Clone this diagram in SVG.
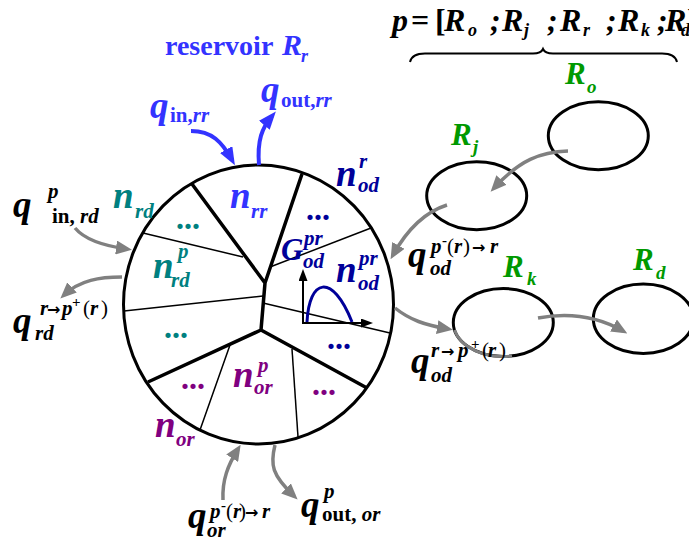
<svg xmlns="http://www.w3.org/2000/svg" width="689" height="547" viewBox="0 0 689 547">
<style>
.t{font-family:"Liberation Serif","Times New Roman",serif;font-weight:bold;font-style:italic}
.u{font-style:normal}
.th{font-weight:normal;font-style:normal}
.ar{font-family:"DejaVu Sans",sans-serif;font-weight:bold;font-style:normal;font-size:16px}
.b{font-size:37px}
.s{font-size:21px}
.ss{font-size:15px}
.lab{font-size:31px}
.ls{font-size:19px}
.blue{fill:#3333ff}.teal{fill:#008080}.purp{fill:#800080}.navy{fill:#000099}.green{fill:#009900}.blk{fill:#000}
.dots{font-family:"Liberation Serif",serif;font-weight:bold;font-size:32px}
.ga{fill:none;stroke:#808080;stroke-width:3.5}
.ba{fill:none;stroke:#3333ff;stroke-width:4}
.ell{fill:none;stroke:#000;stroke-width:3}
.thick{stroke:#000;stroke-width:3.5;fill:none;stroke-linejoin:round}
.thin{stroke:#000;stroke-width:1.5}
</style>
<defs>
<marker id="mg" viewBox="0 0 16 14" refX="11" refY="7" markerWidth="16" markerHeight="14" markerUnits="userSpaceOnUse" orient="auto"><path d="M0,0 L16,7 L0,14 z" fill="#808080"/></marker>
<marker id="mb" viewBox="0 0 18 14" refX="12" refY="7" markerWidth="18" markerHeight="14" markerUnits="userSpaceOnUse" orient="auto"><path d="M0,0 L18,7 L0,14 z" fill="#3333ff"/></marker>
<marker id="mk" viewBox="0 0 12 9" refX="8" refY="4.5" markerWidth="12" markerHeight="9" markerUnits="userSpaceOnUse" orient="auto"><path d="M0,0 L12,4.5 L0,9 z" fill="#000"/></marker>
</defs>

<g id="formula">
<text class="t blk" font-size="32"><tspan x="392" y="31">p</tspan><tspan class="u" x="411" y="31">=</tspan><tspan class="u" x="435" y="31">[</tspan><tspan x="444" y="31">R</tspan><tspan x="490" y="31">;</tspan><tspan x="502" y="31">R</tspan><tspan x="547" y="31">;</tspan><tspan x="560" y="31">R</tspan><tspan x="606" y="31">;</tspan><tspan x="618" y="31">R</tspan><tspan x="657" y="31">;</tspan><tspan x="665" y="31">R</tspan></text>
<text class="t blk" font-size="18"><tspan x="468" y="36">o</tspan><tspan x="524" y="36">j</tspan><tspan x="583" y="36">r</tspan><tspan x="641" y="36">k</tspan><tspan x="681" y="36">d</tspan></text>
<text class="t u blk" font-size="32" x="687" y="31">]</text>
<path d="M410,62 Q412,53.5 425,53.5 L533,53.5 Q541,53.5 543,49 Q545,53.5 553,53.5 L662,53.5 Q675,53.5 677,62" fill="none" stroke="#000" stroke-width="2"/>
</g>

<g id="reservoir">
<ellipse cx="258.5" cy="304.5" rx="135" ry="139.5" fill="#fff" stroke="#000" stroke-width="3"/>
<path class="thick" d="M192,184 L265,283 L302,174 M265,283 L261,330 M148,382 L261,330 L367,388"/>
<g class="thin">
<line x1="143" y1="233" x2="243" y2="257"/>
<line x1="124" y1="311" x2="263" y2="296"/>
<line x1="270" y1="267" x2="371" y2="228"/>
<line x1="263" y1="303" x2="390" y2="333"/>
<line x1="230" y1="345" x2="200" y2="430"/>
<line x1="292" y1="349" x2="298" y2="437"/>
</g>
<text class="t u" x="165" y="55" font-size="28" fill="#3333ff">reservoir</text>
<text class="t blue" x="282" y="55" font-size="30">R</text>
<text class="t blue" x="301" y="62" font-size="18">r</text>
</g>

<g id="graph">
<line x1="303" y1="323" x2="303" y2="273" stroke="#000" stroke-width="2" marker-end="url(#mk)"/>
<line x1="302" y1="323" x2="369" y2="323" stroke="#000" stroke-width="2" marker-end="url(#mk)"/>
<path d="M307,322 C309,279 332,272 352,322" fill="none" stroke="#000099" stroke-width="3"/>
<text class="t navy" x="281" y="260" font-size="31">G</text>
<text class="t navy s" x="304" y="245">pr</text>
<text class="t navy s" x="303" y="268">od</text>
</g>

<g id="n_rr">
<text class="t blue b" x="230" y="208">n</text>
<text class="t blue s" x="251" y="218">rr</text>
</g>
<g id="n_rd">
<text class="t teal b" x="113" y="208">n</text>
<text class="t teal s" x="135" y="218">rd</text>
<text class="t teal b" x="153" y="278">n</text>
<text class="t teal s" x="178" y="258">p</text>
<text class="t teal s" x="171" y="287">rd</text>
<text class="dots teal" x="176" y="229">...</text>
<text class="dots teal" x="164" y="338">...</text>
</g>
<g id="n_od">
<text class="t navy b" x="336" y="186">n</text>
<text class="t navy s" x="359" y="168">r</text>
<text class="t navy s" x="358" y="192">od</text>
<text class="t navy b" x="336" y="282">n</text>
<text class="t navy s" x="359" y="265">pr</text>
<text class="t navy s" x="358" y="290">od</text>
<text class="dots navy" x="306" y="220">...</text>
<text class="dots navy" x="327" y="349">...</text>
</g>
<g id="n_or">
<text class="t purp b" x="233" y="387">n</text>
<text class="t purp s" x="258" y="372">p</text>
<text class="t purp s" x="254" y="394">or</text>
<text class="t purp b" x="155" y="437">n</text>
<text class="t purp s" x="176" y="446">or</text>
<text class="dots purp" x="181" y="389">...</text>
<text class="dots purp" x="312" y="395">...</text>
</g>

<g id="R_o">
<ellipse class="ell" cx="598.3" cy="135.8" rx="50" ry="34"/>
<text class="t green lab" x="565" y="84">R</text>
<text class="t green ls" x="587" y="93">o</text>
</g>
<g id="R_j">
<ellipse class="ell" cx="476.7" cy="195.7" rx="50" ry="34"/>
<text class="t green lab" x="451" y="145">R</text>
<text class="t green ls" x="473" y="153">j</text>
</g>
<g id="R_k">
<ellipse class="ell" cx="503.3" cy="322.5" rx="50" ry="34"/>
<path d="M454.5,330 A50,34 0 0 0 512,356" fill="none" stroke="#808080" stroke-width="3"/>
<text class="t green lab" x="503" y="277">R</text>
<text class="t green ls" x="527" y="285">k</text>
</g>
<g id="R_d">
<ellipse class="ell" cx="643.3" cy="318.7" rx="50" ry="34.7"/>
<text class="t green lab" x="633" y="270">R</text>
<text class="t green ls" x="656" y="279">d</text>
</g>

<g id="connectors">
<path class="ba" d="M191,131 C212,131 222,142 232,160" marker-end="url(#mb)"/>
<path class="ba" d="M259,165 C257,140 262,128 272,116" marker-end="url(#mb)"/>
<path class="ga" d="M75,228 C85,240 105,246 127,249" marker-end="url(#mg)"/>
<path class="ga" d="M122,277 C100,277 80,280 64,295" marker-end="url(#mg)"/>
<path class="ga" d="M568,151 C540,152 520,160 494,188" marker-end="url(#mg)"/>
<path class="ga" d="M447,205 C425,212 408,228 393,255" marker-end="url(#mg)"/>
<path class="ga" d="M395,308 C410,320 425,325 448,329" marker-end="url(#mg)"/>
<path class="ga" d="M538,318 C565,313 595,315 623,331" marker-end="url(#mg)"/>
<path class="ga" d="M223,500 C222,480 228,465 238,449" marker-end="url(#mg)"/>
<path class="ga" d="M275,445 C270,465 272,475 294,496" marker-end="url(#mg)"/>
</g>

<g id="q_in_rr">
<text class="t blue b" x="150" y="118">q</text>
<text class="t blue s" x="170" y="122"><tspan class="u">in,</tspan><tspan>rr</tspan></text>
</g>
<g id="q_out_rr">
<text class="t blue b" x="261" y="102">q</text>
<text class="t blue s" x="281" y="107"><tspan class="u">out,</tspan><tspan>rr</tspan></text>
</g>
<g id="q_in_rd">
<text class="t blk b" x="13" y="217">q</text>
<text class="t blk s" x="48" y="198">p</text>
<text class="t blk s" x="52" y="223"><tspan class="u">in, </tspan><tspan>rd</tspan></text>
</g>
<g id="q_rd_out">
<text class="t blk b" x="13" y="333">q</text>
<text class="t blk s" y="315"><tspan x="40">r</tspan><tspan class="ar" x="47">→</tspan><tspan x="62">p</tspan><tspan class="ss u" x="72" y="307">+</tspan><tspan class="th" x="83" y="315">(</tspan><tspan x="90">r</tspan><tspan class="th" x="101">)</tspan></text>
<text class="t blk s" x="35" y="340">rd</text>
</g>
<g id="q_or_in">
<text class="t blk b" x="188" y="528">q</text>
<text class="t blk s" y="518"><tspan x="210">p</tspan><tspan class="ss u" x="221" y="510">-</tspan><tspan class="th" x="226" y="518">(</tspan><tspan x="233">r</tspan><tspan class="th" x="239">)</tspan><tspan class="ar" x="245">→</tspan><tspan x="262">r</tspan></text>
<text class="t blk s" x="207" y="537">or</text>
</g>
<g id="q_out_or">
<text class="t blk b" x="301" y="517">q</text>
<text class="t blk s" x="324" y="498">p</text>
<text class="t blk s" x="322" y="521"><tspan class="u">out, </tspan><tspan>or</tspan></text>
</g>
<g id="q_od_in">
<text class="t blk b" x="408" y="267">q</text>
<text class="t blk s" y="253"><tspan x="431">p</tspan><tspan class="ss u" x="442" y="245">-</tspan><tspan class="th" x="447" y="253">(</tspan><tspan x="454">r</tspan><tspan class="th" x="463">)</tspan><tspan class="ar" x="472">→</tspan><tspan x="490">r</tspan></text>
<text class="t blk s" x="430" y="275">od</text>
</g>
<g id="q_od_out">
<text class="t blk b" x="411" y="373">q</text>
<text class="t blk s" y="357"><tspan x="431">r</tspan><tspan class="ar" x="441">→</tspan><tspan x="458">p</tspan><tspan class="ss u" x="471" y="349">+</tspan><tspan class="th" x="482" y="357">(</tspan><tspan x="488">r</tspan><tspan class="th" x="499">)</tspan></text>
<text class="t blk s" x="431" y="382">od</text>
</g>
</svg>
